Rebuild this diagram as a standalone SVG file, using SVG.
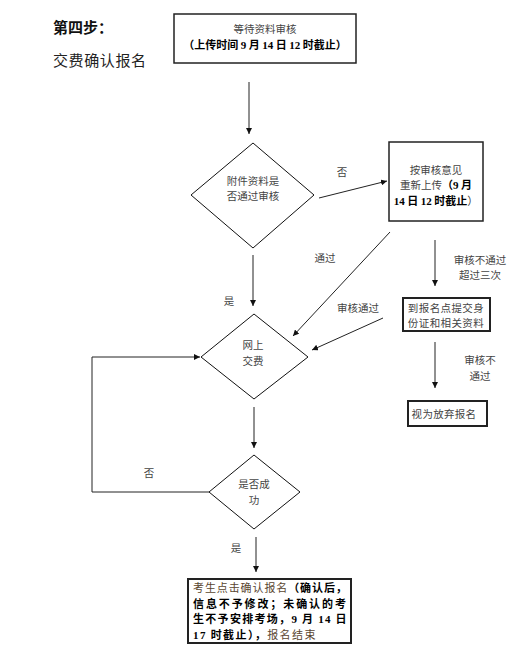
<svg xmlns="http://www.w3.org/2000/svg" width="513" height="656" viewBox="0 0 513 656">
<defs>
<marker id="ah" viewBox="0 0 10 10" refX="10" refY="5" markerWidth="6" markerHeight="6" orient="auto" markerUnits="userSpaceOnUse">
<path d="M0,0 L10,5 L0,10 z" fill="#111"/>
</marker>
<style>
.t{font-family:"Noto Sans CJK SC","Liberation Serif",serif;font-size:10.5px;fill:#444;text-anchor:middle}
.b{font-family:"Noto Sans CJK SC","Liberation Serif",serif;font-size:11px;fill:#000;font-weight:bold}
.n{font-family:"Liberation Serif","Noto Sans CJK SC",serif;font-weight:bold;fill:#000}
.f{font-family:"Noto Sans CJK SC","Liberation Serif",serif;font-size:11px}
.box{fill:#fff;stroke:#222;stroke-width:1.5}
.box2{fill:#fff;stroke:#222;stroke-width:2}
.dia{fill:#fff;stroke:#111;stroke-width:1}
.c{fill:none;stroke:#222;stroke-width:1;marker-end:url(#ah)}
</style>
</defs>
<rect width="513" height="656" fill="#fff"/>
<g id="title">
<text x="53" y="33" style="font-family:'Noto Sans CJK SC',sans-serif;font-size:15px;font-weight:bold;fill:#111">第四步：</text>
<text x="53" y="66" style="font-family:'Noto Sans CJK SC',sans-serif;font-size:15px;fill:#222;letter-spacing:0.6px">交费确认报名</text>
</g>
<g id="connectors">
<line class="c" x1="249" y1="82" x2="249" y2="134"/>
<line class="c" x1="319" y1="198" x2="387" y2="181"/>
<line class="c" x1="390" y1="232" x2="293" y2="336"/>
<line class="c" x1="435" y1="240" x2="435" y2="286"/>
<line class="c" x1="383" y1="318" x2="312" y2="350"/>
<line class="c" x1="253" y1="255" x2="253" y2="306"/>
<polyline class="c" points="209,492 92,492 92,357 200,357"/>
<line class="c" x1="435" y1="342" x2="435" y2="388"/>
<line class="c" x1="254" y1="407" x2="254" y2="448"/>
<line class="c" x1="256" y1="537" x2="256" y2="572"/>
</g>
<g id="labels">
<text class="t" x="342" y="176">否</text>
<text class="t" x="325" y="262">通过</text>
<text class="t" x="480" y="264">审核不通过</text>
<text class="t" x="480" y="279">超过三次</text>
<text class="t" x="358" y="312">审核通过</text>
<text class="t" x="229" y="305">是</text>
<text class="t" x="480" y="364">审核不</text>
<text class="t" x="480" y="380">通过</text>
<text class="t" x="149" y="477">否</text>
<text class="t" x="236" y="552">是</text>
</g>
<g id="n_wait">
<rect class="box" x="174" y="14" width="182" height="49"/>
<text class="t" x="265" y="33">等待资料审核</text>
<text class="b" x="265" y="49" text-anchor="middle">（上传时间 <tspan class="n">9</tspan> 月 <tspan class="n">14</tspan> 日 <tspan class="n">12</tspan> 时截止）</text>
</g>
<g id="n_check">
<polygon class="dia" points="253,143 314,195 253,248 191,195"/>
<text class="t" x="253" y="185">附件资料是</text>
<text class="t" x="253" y="200">否通过审核</text>
</g>
<g id="n_reupload">
<rect class="box" x="389" y="142" width="94" height="79"/>
<text class="t" x="436" y="174">按审核意见</text>
<text class="t" x="436" y="189">重新上传<tspan class="b">（<tspan class="n">9</tspan> 月</tspan></text>
<text class="b" x="436" y="205" text-anchor="middle"><tspan class="n">14</tspan> 日 <tspan class="n">12</tspan> 时截止<tspan style="font-weight:normal;fill:#444">）</tspan></text>
</g>
<g id="n_onsite">
<rect class="box2" x="403" y="298" width="87" height="33"/>
<text class="t" x="446" y="312" style="letter-spacing:0.4px">到报名点提交身</text>
<text class="t" x="446" y="327" style="letter-spacing:0.4px">份证和相关资料</text>
</g>
<g id="n_pay">
<polygon class="dia" points="254,314 308,357 254,399 201,357"/>
<text class="t" x="253" y="349">网上</text>
<text class="t" x="253" y="365">交费</text>
</g>
<g id="n_giveup">
<rect class="box2" x="408" y="401" width="79" height="25"/>
<text class="t" x="444" y="418" style="letter-spacing:0.3px">视为放弃报名</text>
</g>
<g id="n_success">
<polygon class="dia" points="254,455 300,492 254,529 209,492"/>
<text class="t" x="254" y="488">是否成</text>
<text class="t" x="254" y="504">功</text>
</g>
<g id="n_confirm">
<rect class="box2" x="188" y="579" width="163" height="64"/>
<text class="f" x="193" y="592" style="letter-spacing:0.9px"><tspan fill="#5a4630">考生点击确认报名</tspan><tspan font-weight="bold" fill="#000">（确认后，</tspan></text>
<text class="f" x="193" y="607.5" style="font-weight:bold;fill:#000;letter-spacing:1.9px">信息不予修改；未确认的考</text>
<text class="f" x="193" y="623" style="font-weight:bold;fill:#000;letter-spacing:1.3px">生不予安排考场，<tspan class="n">9</tspan> 月 <tspan class="n">14</tspan> 日</text>
<text class="f" x="193" y="638.5" style="letter-spacing:1.4px"><tspan class="n">17</tspan><tspan font-weight="bold" fill="#000"> 时截止），</tspan><tspan fill="#5a4630">报名结束</tspan></text>
</g>
</svg>
